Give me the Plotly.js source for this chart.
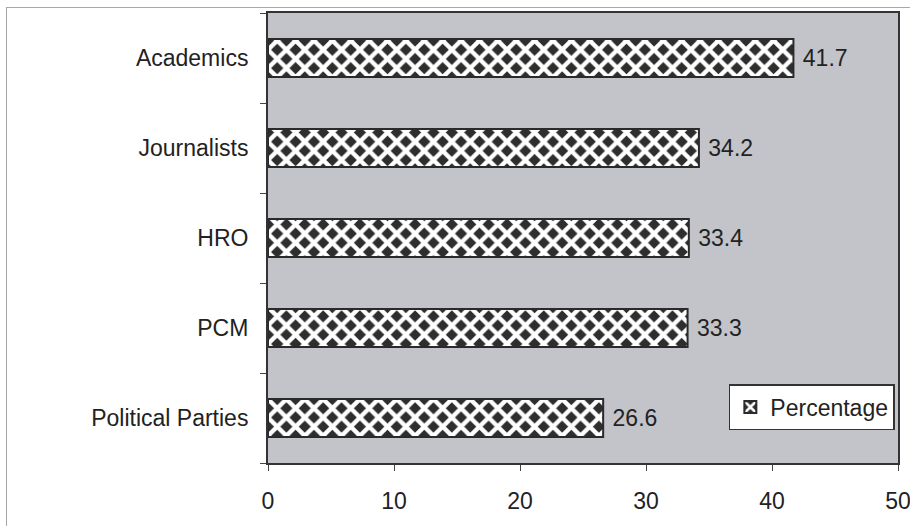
<!DOCTYPE html>
<html><head><meta charset="utf-8">
<script src="https://cdn.plot.ly/plotly-3.0.1.min.js"></script>
<style>
html,body{margin:0;padding:0;background:#fff;}
#wrap{position:relative;width:910px;height:526px;}
#frame{position:absolute;left:6px;top:7px;width:904px;height:519px;border:1px solid #a8a8a8;border-right:none;border-bottom:none;box-sizing:border-box;pointer-events:none;}
#chart{position:absolute;left:0;top:0;width:910px;height:526px;}
</style></head>
<body><div id="wrap"><div id="chart"></div><div id="frame"></div></div>
<script>
const categories = ["Political Parties", "PCM", "HRO", "Journalists", "Academics"];
const values = [26.6, 33.3, 33.4, 34.2, 41.7];
const seriesName = "Percentage";
const xTicks = [0, 10, 20, 30, 40, 50];

const FONT = "Arial, 'Liberation Sans', sans-serif";
const FS = 23;

const trace = {
  type: "bar", orientation: "h",
  y: categories, x: values, name: seriesName,
  texttemplate: " %{x:.1f}",
  textposition: "outside", cliponaxis: false,
  textfont: {family: FONT, size: FS, color: "#222"},
  marker: {
    color: "#2e2e2e",
    line: {color: "#2a2a2a", width: 2},
    pattern: {shape: "x", fgcolor: "#ffffff", bgcolor: "#2e2e2e", size: 13, solidity: 0.55, fillmode: "replace"}
  }
};

const layout = {
  width: 910, height: 526,
  margin: {l: 268, r: 12, t: 13, b: 63},
  paper_bgcolor: "rgba(0,0,0,0)",
  plot_bgcolor: "#c2c4c9",
  bargap: 0.58,
  showlegend: true,
  legend: {x: 0.995, xanchor: "right", y: 0.073, yanchor: "bottom",
    bgcolor: "#ffffff", bordercolor: "#333", borderwidth: 1.5,
    font: {family: FONT, size: FS, color: "#222"}},
  font: {family: FONT, size: FS, color: "#222"},
  xaxis: {range: [0, 50], tickvals: xTicks, ticks: "outside", ticklen: 6, tickcolor: "#444",
    showgrid: false, zeroline: false, showline: true, linecolor: "#333", linewidth: 2, mirror: true,
    tickfont: {family: FONT, size: FS, color: "#222"}, ticklabelstandoff: 10, ticklabeloverflow: "allow"},
  yaxis: {type: "category", categoryorder: "array", categoryarray: categories,
    ticks: "outside", tickson: "boundaries", ticklen: 6, tickcolor: "#444",
    showgrid: false, zeroline: false, showline: true, linecolor: "#333", linewidth: 2, mirror: true,
    tickfont: {family: FONT, size: FS, color: "#222"}, ticklabelstandoff: 13}
};

Plotly.newPlot("chart", [trace], layout, {displayModeBar: false, staticPlot: true});
</script></body></html>
